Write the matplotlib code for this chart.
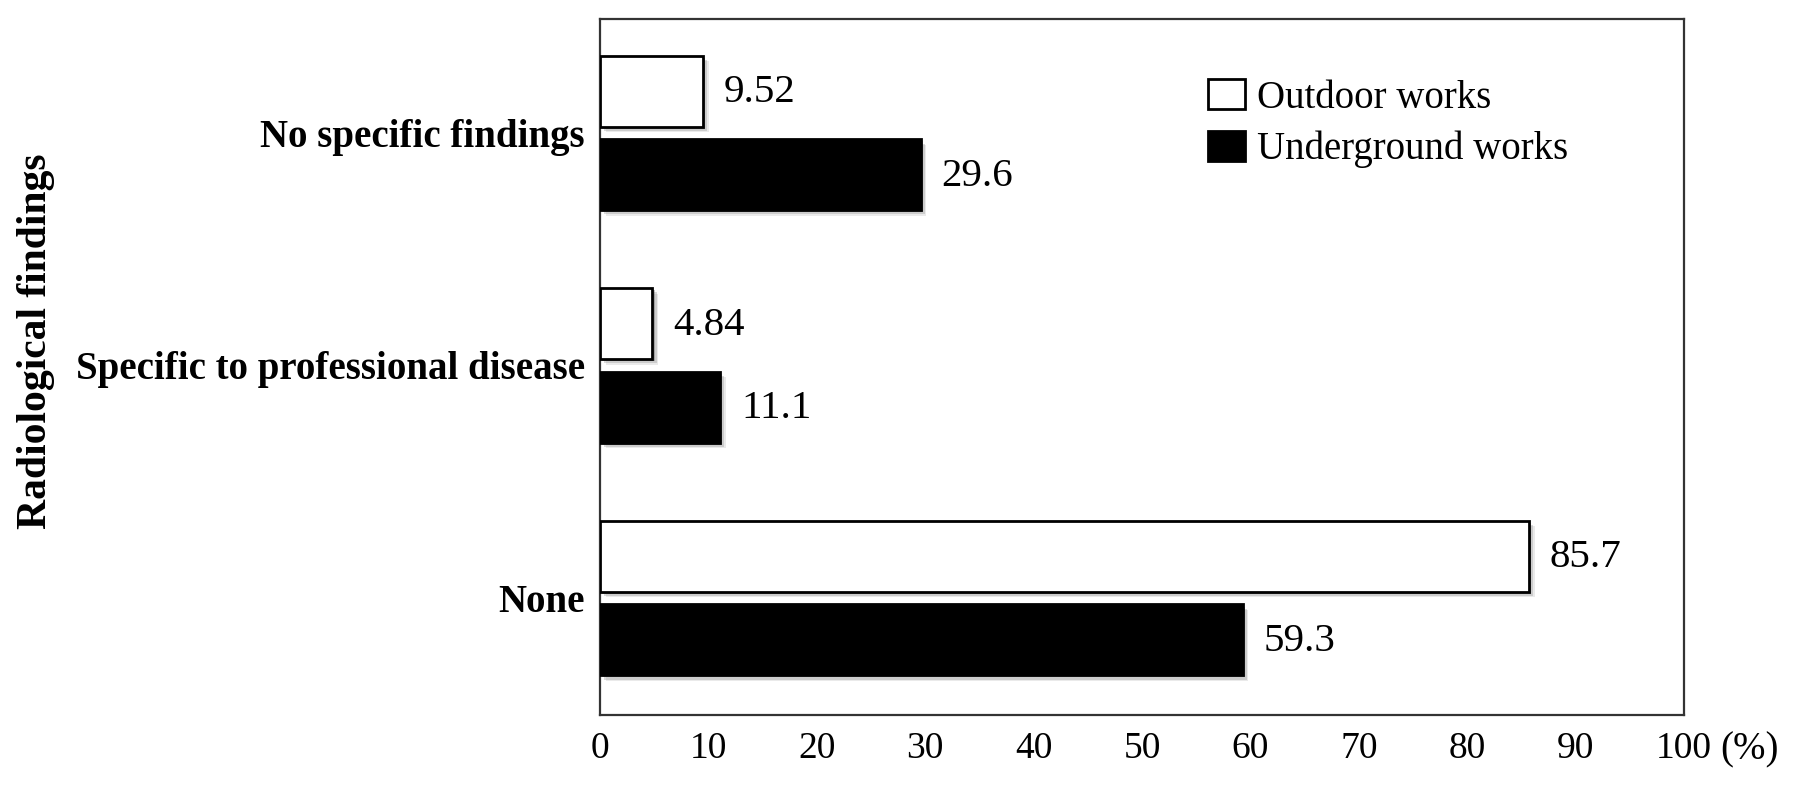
import matplotlib
matplotlib.use("Agg")
import matplotlib.pyplot as plt
import matplotlib.patheffects as pe
from matplotlib.patches import Patch
import numpy as np

plt.rcParams['font.family'] = ['Liberation Serif', 'DejaVu Serif']

categories = ["None", "Specific to professional disease", "No specific findings"]
outdoor = [85.7, 4.84, 9.52]
underground = [59.3, 11.1, 29.6]
outdoor_labels = ["85.7", "4.84", "9.52"]
underground_labels = ["59.3", "11.1", "29.6"]
series_names = ["Outdoor works", "Underground works"]
xticks = [0, 10, 20, 30, 40, 50, 60, 70, 80, 90, 100]
x_unit = "(%)"
ylabel = "Radiological findings"

W, H = 1795, 785
fig = plt.figure(figsize=(W / 100, H / 100), dpi=100)
ax = fig.add_axes([600 / W, 1 - 715 / H, 1084 / W, 696 / H])

y = np.arange(len(categories))
off = 0.18
h = 0.305

shadow = [
    pe.SimplePatchShadow(offset=(4, -4), shadow_rgbFace='0.55', alpha=0.18),
    pe.SimplePatchShadow(offset=(3, -3), shadow_rgbFace='0.45', alpha=0.25),
    pe.SimplePatchShadow(offset=(1.5, -1.5), shadow_rgbFace='0.35', alpha=0.35),
    pe.Normal(),
]

b1 = ax.barh(y + off, outdoor, height=h, color='white', edgecolor='black', linewidth=2.0, zorder=3)
b2 = ax.barh(y - off, underground, height=h, color='black', edgecolor='black', linewidth=2.0, zorder=3)
for b in list(b1) + list(b2):
    b.set_path_effects(shadow)

for yy, v, lab in zip(y + off, outdoor, outdoor_labels):
    ax.annotate(lab, xy=(v, yy), xytext=(15, -1), textcoords='offset points',
                ha='left', va='center', fontsize=29.5, zorder=4)
for yy, v, lab in zip(y - off, underground, underground_labels):
    ax.annotate(lab, xy=(v, yy), xytext=(15, -1), textcoords='offset points',
                ha='left', va='center', fontsize=29.5, zorder=4)

ax.set_xlim(0, 100)
ax.set_ylim(-0.503, 2.49)
ax.set_xticks(xticks)
ax.set_xticklabels([str(t) for t in xticks], fontsize=27)
ax.set_yticks(y)
ax.set_yticklabels(categories, fontsize=28, fontweight='bold')
ax.tick_params(axis='x', length=0, pad=12)
ax.tick_params(axis='y', length=0, pad=11)
for s in ax.spines.values():
    s.set_linewidth(1.6)
    s.set_color('#333333')

ax.annotate(x_unit, xy=(1, 0), xycoords='axes fraction', xytext=(26, -12),
            textcoords='offset points', ha='left', va='top', fontsize=28)

fig.text(36 / W, 1 - 341 / H, ylabel, rotation=90, ha='center', va='center',
         fontsize=30, fontweight='bold')

handles = [Patch(facecolor='white', edgecolor='black', linewidth=2.0),
           Patch(facecolor='black', edgecolor='black', linewidth=2.0)]
ax.legend(handles, series_names, loc='upper left', frameon=False,
          bbox_to_anchor=(1208 / W, 1 - 79 / H), bbox_transform=fig.transFigure,
          borderpad=0, borderaxespad=0, fontsize=28, handlelength=0.95,
          handleheight=0.82, handletextpad=0.3, labelspacing=0.36)

fig.savefig("out.png", dpi=100)
